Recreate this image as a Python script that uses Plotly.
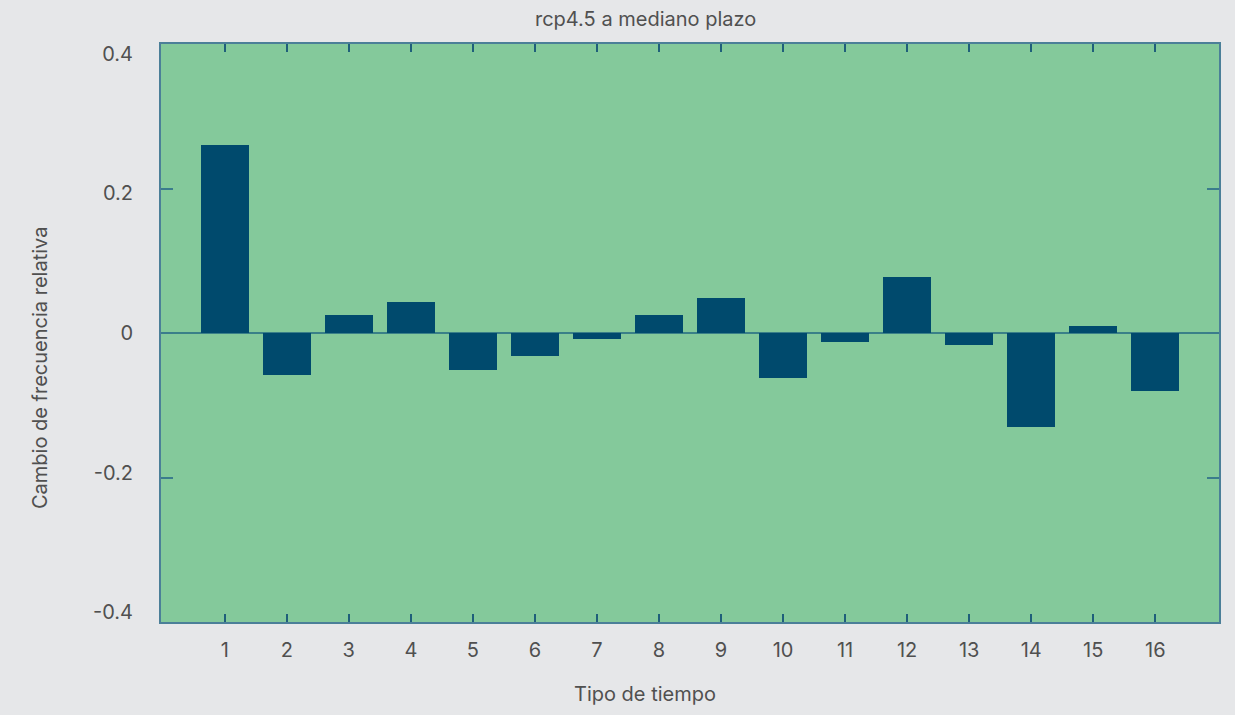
import plotly.graph_objects as go

# Relative frequency change per weather type (rcp4.5, medium term)
tipos = list(range(1, 17))
cambio = [0.260, -0.058, 0.0245, 0.0425, -0.051, -0.032, -0.0087, 0.0245,
          0.048, -0.062, -0.0128, 0.078, -0.017, -0.130, 0.0093, -0.080]

y_ticks = [-0.4, -0.2, 0, 0.2, 0.4]
y_ticktext = ["-0.4", "-0.2", "0", "0.2", "0.4"]

W, H = 1235, 715
L, R, T, B = 161, 16, 44, 93

txt = "#505050"
line_col = "#4b7f98"
fsize = 20
font = dict(family="Inter, Roboto, Arial, sans-serif", size=fsize, color=txt)


def px_x(px):
    return (px - L) / (W - L - R)


def px_y(py):
    return 1 - (py - T) / (H - T - B)


fig = go.Figure()
fig.add_trace(go.Bar(
    x=tipos, y=cambio, width=0.775,
    marker=dict(color="#004a6d", line=dict(width=0)),
    hoverinfo="x+y",
))
# carrier for the label-only axis
fig.add_trace(go.Scatter(x=[None], y=[None], yaxis="y2", showlegend=False,
                         hoverinfo="skip"))

fig.update_layout(
    width=W, height=H,
    margin=dict(l=L, r=R, t=T, b=B),
    paper_bgcolor="#e6e7e9",
    plot_bgcolor="#84c99b",
    font=font,
    showlegend=False,
    bargap=0,
    xaxis=dict(
        range=[-0.027, 17.027], tickvals=tipos, ticktext=[str(t) for t in tipos],
        ticks="inside", ticklen=8, tickwidth=2, tickcolor="#1f5f7a",
        showline=True, linecolor=line_col, linewidth=2, mirror="ticks",
        showgrid=False, zeroline=False, ticklabelstandoff=9,
        tickfont=dict(size=fsize, color=txt),
    ),
    yaxis=dict(
        range=[-0.4, 0.4], tickvals=y_ticks, showticklabels=False,
        ticks="inside", ticklen=12, tickwidth=2, tickcolor="#3b7c8c",
        showline=True, linecolor=line_col, linewidth=2, mirror="ticks",
        showgrid=False, zeroline=True, zerolinecolor="#3a8088", zerolinewidth=2,
    ),
    yaxis2=dict(
        overlaying="y", side="left", range=[-0.4143, 0.4143],
        tickvals=y_ticks, ticktext=y_ticktext,
        ticks="outside", ticklen=23, tickcolor="rgba(0,0,0,0)",
        showline=False, showgrid=False, zeroline=False,
        tickfont=dict(size=fsize, color=txt),
    ),
    annotations=[
        dict(text="rcp4.5 a mediano plazo", xref="paper", yref="paper",
             x=px_x(645), y=px_y(19), xanchor="center", yanchor="middle",
             showarrow=False, font=dict(size=fsize, color=txt)),
        dict(text="Tipo de tiempo", xref="paper", yref="paper",
             x=px_x(645), y=px_y(694), xanchor="center", yanchor="middle",
             showarrow=False, font=dict(size=fsize, color=txt)),
        dict(text="Cambio de frecuencia relativa", xref="paper", yref="paper",
             x=px_x(40), y=px_y(368), xanchor="center", yanchor="middle",
             textangle=-90, showarrow=False, font=dict(size=fsize, color=txt)),
    ],
)

fig.write_html("out.html")
